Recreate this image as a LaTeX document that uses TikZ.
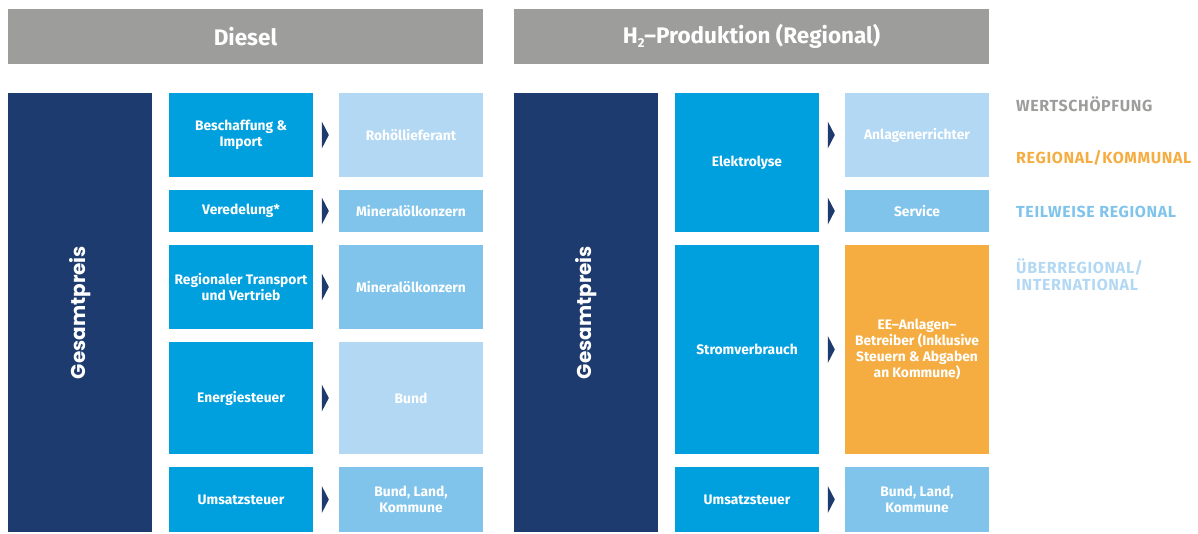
\documentclass[tikz,border=0pt]{standalone}
\usepackage{fontspec}
\setmainfont{Fira Sans}
\newfontfamily\geofont{Poppins}
\newfontfamily\legendfont{Fira Sans}[LetterSpace=4]
\usetikzlibrary{calc}

\definecolor{headgray}{HTML}{9D9D9C}
\definecolor{navy}{HTML}{1D3B6E}
\definecolor{midblue}{HTML}{00A0DF}
\definecolor{skyblue}{HTML}{80C4EC}
\definecolor{paleblue}{HTML}{B3D8F3}
\definecolor{amber}{HTML}{F5AD42}

\tikzset{
  x=1pt, y=-1pt,
  cell/.style={inner sep=2pt, align=center, text=white, font=\fontsize{13.8}{15.8}\selectfont\bfseries, minimum width=144pt},
  header/.style={fill=headgray, text=white, minimum width=475pt, minimum height=55pt, font=\fontsize{22.5}{26}\selectfont\bfseries},
  total/.style={fill=navy, text=white, minimum width=144pt, minimum height=439pt},
  totaltext/.style={rotate=90, text=white, font=\geofont\fontsize{20}{24}\selectfont\bfseries},
  costbox/.style={cell, fill=midblue},
  partbox/.style={cell, fill=skyblue},
  farbox/.style={cell, fill=paleblue},
  localbox/.style={cell, fill=amber},
  legend/.style={anchor=west, inner sep=0pt, font=\legendfont\fontsize{16}{17.5}\selectfont\bfseries, align=left},
  pointer/.style={fill=navy}
}
% small navy triangle in front of a recipient box
\newcommand{\pointto}[1]{\fill[pointer] ($(#1.west)+(-17,-13.5)$) -- ++(7,13.5) -- ++(-7,13.5) -- cycle;}

\begin{document}
\begin{tikzpicture}
\useasboundingbox (0,0) rectangle (1198,533);

% column headers
\node[header] (hdiesel) at (245.5,36.5) {Diesel};
\node[header] (hhtwo) at (751.5,36.5) {H\raisebox{-0.35ex}{\fontsize{13}{13}\selectfont 2}–Produktion (Regional)};

% total price bars
\node[total] (gdiesel) at (80,312.5) {};
\node[totaltext] (tdiesel) at (gdiesel.center) {Gesamtpreis};
\node[total] (ghtwo) at (586,312.5) {};
\node[totaltext] (thtwo) at (ghtwo.center) {Gesamtpreis};

% Diesel: cost components
\node[costbox, minimum height=84pt] (d1) at (241,135) {Beschaffung \&\\Import};
\node[costbox, minimum height=42pt] (d2) at (241,211) {Veredelung*};
\node[costbox, minimum height=84pt] (d3) at (241,287) {Regionaler Transport\\und Vertrieb};
\node[costbox, minimum height=112pt] (d4) at (241,398) {Energiesteuer};
\node[costbox, minimum height=65pt] (d5) at (241,499.5) {Umsatzsteuer};

% Diesel: recipients
\node[farbox, minimum height=84pt] (e1) at (411,135) {Rohöllieferant};
\node[partbox, minimum height=42pt] (e2) at (411,211) {Mineralölkonzern};
\node[partbox, minimum height=84pt] (e3) at (411,287) {Mineralölkonzern};
\node[farbox, minimum height=112pt] (e4) at (411,398) {Bund};
\node[partbox, minimum height=65pt] (e5) at (411,499.5) {Bund, Land,\\Kommune};

% H2: cost components
\node[costbox, minimum height=139pt] (h1) at (747,162.5) {Elektrolyse};
\node[costbox, minimum height=209pt] (h2) at (747,349.5) {Stromverbrauch};
\node[costbox, minimum height=65pt] (h3) at (747,499.5) {Umsatzsteuer};

% H2: recipients
\node[farbox, minimum height=84pt] (k1) at (917,135) {Anlagenerrichter};
\node[partbox, minimum height=42pt] (k2) at (917,211) {Service};
\node[localbox, minimum height=209pt] (k3) at (917,349.5) {EE–Anlagen–\\Betreiber (Inklusive\\Steuern \& Abgaben\\an Kommune)};
\node[partbox, minimum height=65pt] (k4) at (917,499.5) {Bund, Land,\\Kommune};

% pointers
\pointto{e1}\pointto{e2}\pointto{e3}\pointto{e4}\pointto{e5}
\pointto{k1}\pointto{k2}\pointto{k3}\pointto{k4}

% legend
\node[legend, text=headgray] (l1) at (1016,104) {WERTSCHÖPFUNG};
\node[legend, text=amber] (l2) at (1016,157.5) {REGIONAL/KOMMUNAL};
\node[legend, text=skyblue] (l3) at (1016,211.5) {TEILWEISE REGIONAL};
\node[legend, text=paleblue] (l4) at (1016,274.5) {ÜBERREGIONAL/\\INTERNATIONAL};
\end{tikzpicture}
\end{document}
